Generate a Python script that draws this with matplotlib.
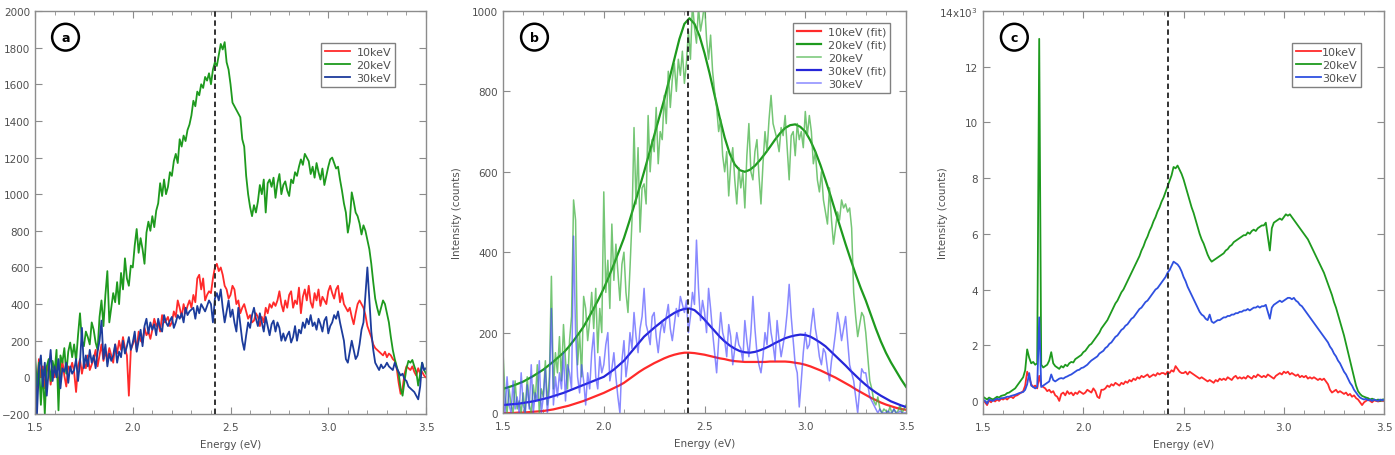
import numpy as np
import matplotlib
matplotlib.use('Agg')
import matplotlib.pyplot as plt
from matplotlib.ticker import MultipleLocator

# energy grids (eV)
energy = np.round(np.arange(1.50, 3.5001, 0.01), 2)      # measured spectra
energy_fit = np.round(np.arange(1.50, 3.5001, 0.025), 3)  # fitted curves

peak_line = 2.42

# ---- panel a (counts)
a_10keV = [50, -80, 100, 0, 60, -60, 30, 80, -40, 40,
           0, 70, -30, 20, 90, 10, -50, 60, 40, 80,
           30, -80, 60, 100, 20, 80, 50, 120, 40, 70,
           100, 150, 60, 120, 180, 90, 140, 100, 160, 120,
           80, 180, 130, 200, 150, 220, 160, 120, -100, 150,
           180, 220, 150, 250, 200, 190, 270, 230, 250, 210,
           260, 320, 280, 300, 250, 340, 300, 310, 330, 280,
           300, 360, 330, 420, 380, 330, 400, 350, 390, 420,
           380, 450, 410, 540, 560, 480, 540, 420, 450, 470,
           460, 540, 600, 620, 580, 600, 560, 500, 480, 430,
           450, 500, 480, 400, 420, 350, 380, 400, 360, 320,
           340, 300, 310, 350, 330, 280, 330, 300, 380, 350,
           400, 380, 410, 390, 420, 470, 400, 360, 420, 380,
           450, 470, 380, 420, 400, 490, 350, 440, 480, 420,
           500, 410, 380, 460, 420, 480, 390, 440, 420, 400,
           470, 500, 460, 430, 480, 500, 410, 460, 400, 380,
           360, 380, 330, 290, 350, 400, 420, 400, 380, 340,
           280, 250, 220, 180, 160, 150, 140, 130, 120, 140,
           110, 130, 120, 100, 90, 50, -30, -90, -60, 20,
           60, 50, 40, 60, 30, 10, 50, 20, 30, 10,
           0]
a_20keV = [120, -50, 80, -150, 40, -200, 60, 100, -20, 90,
           30, 150, -180, 120, 80, 160, 20, 140, 190, 110,
           180, 90, 230, 350, 200, 170, 250, 220, 180, 300,
           260, 190, 150, 330, 420, 280, 450, 580, 300, 380,
           460, 410, 520, 400, 570, 480, 650, 540, 500, 610,
           600, 720, 810, 680, 760, 700, 620, 790, 850, 800,
           880, 820, 910, 950, 1060, 990, 1080, 1000, 1040, 1120,
           1100, 1180, 1220, 1170, 1300, 1260, 1320, 1290, 1350, 1380,
           1430, 1510, 1480, 1560, 1540, 1600, 1580, 1640, 1620, 1660,
           1600, 1680, 1720, 1700, 1760, 1820, 1790, 1830, 1720, 1680,
           1600, 1500, 1480, 1460, 1440, 1420, 1300, 1260, 1100, 1000,
           930, 880, 940, 900, 960, 1050, 1000, 1080, 900, 1060,
           1080, 1040, 1090, 980, 1060, 1110, 1000, 1050, 1070, 1020,
           990, 1080, 1060, 1120, 1100, 1150, 1190, 1160, 1220, 1200,
           1180, 1110, 1150, 1090, 1170, 1120, 1080, 1140, 1050, 1100,
           1150, 1190, 1200, 1170, 1140, 1150, 1080, 1020, 950, 900,
           790, 850, 1010, 960, 900, 880, 840, 780, 830, 800,
           750, 700, 620, 520, 430, 380, 340, 380, 420, 400,
           350, 300, 220, 150, 100, 60, 20, -60, -100, -20,
           50, 90, 80, 95, 60, 30, -45, 20, 80, 40,
           20]
a_30keV = [100, -200, 50, 120, -50, 80, -100, 40, 150, -20,
           60, 0, 100, -60, 50, 30, 80, -30, 60, 20,
           40, 100, -20, 80, 270, 50, 120, 60, 150, 80,
           120, 50, 140, 200, 310, 100, 180, 60, 130, 90,
           120, 180, 80, 140, 110, 200, 130, 170, 220, 150,
           190, 250, 140, 200, 260, 170, 280, 320, 240, 300,
           260, 290, 230, 320, 270, 250, 340, 300, 280, 310,
           330, 270, 300, 340, 320, 350, 300, 380, 340, 360,
           370, 380, 320, 390, 350, 400, 380, 360, 390, 420,
           400, 300, 430, 460, 420, 480, 380, 300, 360, 420,
           330, 370, 300, 250, 380, 290, 200, 150, 230, 300,
           270, 340, 380, 320, 280, 350, 300, 250, 330, 280,
           230, 290, 310, 250, 300, 270, 200, 240, 200, 230,
           250, 190, 220, 280, 200, 260, 240, 300, 270, 320,
           290, 340, 280, 300, 260, 320, 290, 250, 310, 330,
           240, 280, 300, 340, 320, 360, 300, 250, 200, 100,
           80, 140, 200, 150, 100, 120, 180, 260, 300, 450,
           600, 420, 250, 150, 80, 60, 40, 70, 50, 60,
           80, 60, 50, 40, 80, 50, 30, 10, 20, -10,
           -20, -50, -60, -70, -80, -100, -120, -50, 80, 40,
           50]

# ---- panel b (counts)
b_20keV = [150, 40, 0, 60, 20, 0, 80, 10, 30, 0,
           50, 0, 90, 20, 0, 70, 30, 120, 0, 60,
           40, 130, 20, 90, 340, 60, 150, 100, 190, 80,
           220, 130, 60, 180, 240, 530, 480, 120, 200, 90,
           290, 260, 180, 230, 300, 210, 310, 150, 260, 200,
           550, 300, 380, 260, 470, 330, 420, 350, 280, 370,
           400, 300, 250, 360, 480, 710, 520, 660, 450, 560,
           570, 520, 740, 600, 680, 650, 760, 620, 700, 680,
           790, 720, 850, 760, 830, 870, 800, 880, 840, 900,
           820, 870, 950, 880, 1020, 960, 920, 1010, 950, 980,
           1020, 930, 880, 940, 850, 800, 760, 700, 730, 640,
           600, 650, 540, 620, 660, 580, 520, 610, 560, 600,
           510, 640, 720, 600, 580, 650, 680, 590, 520, 620,
           700, 650, 730, 790, 720, 700, 680, 650, 710, 690,
           740, 660, 580, 690, 700, 640, 720, 680, 700, 660,
           750, 690, 740, 700, 620, 650, 580, 550, 600, 530,
           500, 470, 560, 480, 420, 460, 500, 480, 530, 510,
           520, 500, 510, 460, 300, 240, 190, 220, 250, 240,
           200, 140, 80, 60, 30, 20, 40, 10, 0, 10,
           5, 0, 15, 0, 10, 0, 5, 20, 0, 10,
           20]
b_30keV = [60, 0, 90, 20, 0, 80, 10, 40, 0, 100,
           20, 0, 70, 10, 120, 0, 50, 30, 130, 0,
           40, 110, 0, 60, 260, 20, 90, 40, 100, 60,
           150, 30, 120, 100, 60, 440, 200, 90, 50, 120,
           80, 20, 100, 60, 150, 200, 90, 60, 140, 100,
           120, 170, 200, 80, 110, 150, 90, 40, 0, 130,
           180, 90, 130, 200, 160, 250, 190, 150, 210, 240,
           310, 220, 200, 170, 240, 250, 190, 150, 200, 230,
           200, 240, 270, 210, 180, 220, 260, 240, 290, 270,
           250, 280, 200, 240, 300, 270, 430, 310, 230, 280,
           250, 200, 310, 260, 200, 150, 100, 180, 250, 200,
           180, 140, 220, 190, 120, 160, 200, 170, 160, 130,
           230, 180, 140, 200, 290, 210, 150, 120, 100, 140,
           200, 170, 250, 200, 170, 130, 230, 180, 140, 170,
           200, 250, 320, 240, 180, 120, 100, 15, 80, 150,
           200, 160, 170, 220, 260, 210, 180, 140, 120, 160,
           150, 110, 80, 130, 160, 200, 250, 220, 180, 210,
           240, 180, 120, 100, 80, 40, 0, 60, 110, 100,
           100, 70, 40, 30, 20, 10, 0, 10, 0, 0,
           0, 5, 0, 0, 10, 0, 0, 5, 0, 0,
           0]
b_10keV_fit = [0, 0, 0, 1, 1, 2, 3, 4, 5, 7, 9, 12, 15, 18, 22, 26, 30, 35, 40, 45,
               50, 56, 62, 68, 75, 84, 93, 102, 110, 117, 124, 130, 136, 141, 145, 148,
               150, 150, 149, 147, 145, 142, 139, 136, 134, 131, 129, 128, 127, 127, 127,
               127, 127, 128, 128, 128, 128, 127, 125, 123, 120, 116, 111, 106, 100, 94,
               88, 81, 74, 67, 59, 52, 45, 38, 32, 26, 21, 17, 13, 10, 8]
b_20keV_fit = [60, 64, 68, 73, 78, 85, 92, 100, 108, 118, 128, 139, 150, 164, 180, 197,
               215, 237, 260, 284, 310, 339, 370, 402, 435, 474, 515, 557, 600, 645, 690,
               735, 780, 830, 880, 930, 968, 982, 968, 938, 895, 845, 790, 735, 685, 645,
               618, 604, 600, 605, 615, 629, 645, 662, 680, 696, 709, 716, 718, 712, 700,
               678, 650, 617, 580, 541, 500, 460, 420, 382, 345, 311, 280, 245, 210, 178,
               150, 126, 105, 84, 65]
b_30keV_fit = [20, 21, 22, 23, 25, 27, 29, 32, 35, 38, 42, 46, 50, 55, 60, 65, 70, 75, 80,
               85, 90, 99, 108, 119, 130, 145, 160, 175, 190, 201, 212, 222, 232, 241, 249,
               255, 259, 260, 256, 245, 232, 218, 204, 190, 178, 168, 160, 154, 151, 150,
               152, 156, 161, 167, 174, 180, 186, 190, 193, 195, 194, 190, 183, 175, 166,
               154, 142, 130, 118, 105, 93, 81, 70, 60, 51, 43, 36, 29, 24, 19, 15]

# ---- panel c (x10^3 counts)
c_10keV = [0.00, -0.05, -0.15, 0.02, -0.05, 0.05, -0.02, 0.05, 0.00, 0.08,
           0.05, 0.10, 0.05, 0.12, 0.15, 0.10, 0.18, 0.20, 0.25, 0.30,
           0.35, 0.55, 1.05, 0.85, 0.60, 0.50, 0.55, 0.45, 0.90, 0.55,
           0.50, 0.45, 0.35, 0.40, 0.30, 0.35, 0.20, 0.15, 0.00, 0.25,
           0.30, 0.20, 0.35, 0.25, 0.30, 0.20, 0.30, 0.25, 0.35, 0.30,
           0.25, 0.30, 0.40, 0.35, 0.30, 0.45, 0.35, 0.15, 0.10, 0.40,
           0.40, 0.45, 0.55, 0.50, 0.60, 0.55, 0.65, 0.60, 0.55, 0.65,
           0.60, 0.70, 0.65, 0.75, 0.70, 0.80, 0.75, 0.85, 0.80, 0.90,
           0.85, 0.90, 0.95, 0.85, 0.90, 0.95, 0.90, 1.00, 0.95, 1.00,
           1.00, 0.95, 1.05, 1.00, 1.10, 1.05, 1.25, 1.15, 1.05, 1.00,
           1.00, 1.05, 0.95, 1.05, 1.00, 0.95, 0.90, 0.85, 0.80, 0.85,
           0.80, 0.75, 0.70, 0.75, 0.70, 0.65, 0.75, 0.70, 0.80, 0.75,
           0.80, 0.75, 0.85, 0.80, 0.75, 0.85, 0.90, 0.80, 0.85, 0.80,
           0.85, 0.80, 0.90, 0.85, 0.80, 0.90, 0.85, 0.95, 0.90, 0.85,
           0.90, 0.85, 0.95, 0.90, 0.85, 0.80, 0.90, 0.95, 1.00, 0.95,
           1.05, 1.00, 1.05, 0.95, 1.00, 0.95, 0.90, 0.95, 0.85, 0.90,
           0.85, 0.90, 0.80, 0.85, 0.80, 0.85, 0.80, 0.75, 0.80, 0.75,
           0.80, 0.70, 0.60, 0.40, 0.30, 0.35, 0.40, 0.30, 0.35, 0.30,
           0.25, 0.30, 0.20, 0.25, 0.15, 0.20, 0.10, 0.05, -0.05, -0.15,
           -0.05, 0.00, 0.05, 0.00, -0.05, 0.02, 0.00, -0.02, 0.00, 0.02,
           0.00]
c_20keV = [0.15, 0.10, 0.05, 0.12, 0.08, 0.05, 0.10, 0.15, 0.12, 0.18,
           0.20, 0.22, 0.28, 0.30, 0.35, 0.40, 0.45, 0.55, 0.65, 0.75,
           0.85, 1.10, 1.85, 1.55, 1.35, 1.40, 1.30, 1.35, 13.0, 1.30,
           1.20, 1.25, 1.30, 1.45, 1.75, 1.35, 1.25, 1.20, 1.15, 1.25,
           1.20, 1.30, 1.25, 1.35, 1.40, 1.38, 1.50, 1.55, 1.60, 1.65,
           1.75, 1.80, 1.90, 2.00, 2.05, 2.15, 2.25, 2.35, 2.45, 2.60,
           2.70, 2.80, 2.90, 3.05, 3.20, 3.35, 3.50, 3.60, 3.75, 3.90,
           4.00, 4.15, 4.30, 4.45, 4.60, 4.75, 4.90, 5.05, 5.20, 5.40,
           5.55, 5.75, 5.90, 6.10, 6.25, 6.45, 6.60, 6.80, 6.95, 7.15,
           7.30, 7.50, 7.70, 7.90, 8.10, 8.40, 8.35, 8.45, 8.30, 8.15,
           7.95, 7.70, 7.45, 7.20, 6.95, 6.75, 6.50, 6.25, 6.00, 5.80,
           5.65, 5.45, 5.25, 5.10, 5.00, 5.05, 5.10, 5.15, 5.20, 5.25,
           5.30, 5.40, 5.45, 5.55, 5.60, 5.70, 5.75, 5.80, 5.85, 5.90,
           5.95, 5.95, 6.05, 6.00, 6.10, 6.15, 6.10, 6.20, 6.25, 6.30,
           6.30, 6.40, 5.90, 5.40, 6.20, 6.40, 6.45, 6.50, 6.55, 6.50,
           6.60, 6.70, 6.65, 6.70, 6.60, 6.50, 6.40, 6.30, 6.20, 6.10,
           6.00, 5.90, 5.80, 5.65, 5.50, 5.35, 5.20, 5.05, 4.90, 4.75,
           4.60, 4.40, 4.20, 4.00, 3.80, 3.55, 3.35, 3.10, 2.85, 2.60,
           2.35, 2.05, 1.75, 1.45, 1.15, 0.85, 0.55, 0.35, 0.25, 0.18,
           0.15, 0.12, 0.10, 0.05, 0.08, 0.05, 0.02, 0.05, 0.00, 0.05,
           0.05]
c_30keV = [0.05, 0.00, -0.10, 0.05, 0.02, 0.00, 0.05, 0.08, 0.05, 0.10,
           0.10, 0.12, 0.15, 0.15, 0.18, 0.20, 0.22, 0.25, 0.28, 0.30,
           0.32, 0.40, 0.60, 1.00, 0.55, 0.50, 0.45, 0.50, 3.00, 0.50,
           0.55, 0.60, 0.65, 0.70, 0.95, 0.75, 0.70, 0.75, 0.80, 0.82,
           0.80, 0.85, 0.88, 0.92, 0.95, 1.00, 1.05, 1.10, 1.12, 1.18,
           1.20, 1.25, 1.30, 1.38, 1.45, 1.50, 1.55, 1.60, 1.70, 1.75,
           1.80, 1.90, 1.95, 2.05, 2.10, 2.20, 2.30, 2.35, 2.45, 2.55,
           2.60, 2.70, 2.75, 2.85, 2.95, 3.00, 3.10, 3.20, 3.30, 3.35,
           3.45, 3.55, 3.60, 3.70, 3.80, 3.90, 4.00, 4.05, 4.15, 4.25,
           4.35, 4.45, 4.60, 4.70, 4.85, 5.00, 4.95, 4.90, 4.80, 4.65,
           4.45, 4.30, 4.10, 3.95, 3.80, 3.65, 3.50, 3.35, 3.20, 3.10,
           3.05, 2.95, 2.90, 3.10, 2.85, 2.80, 2.85, 2.90, 2.90, 2.95,
           3.00, 3.00, 3.05, 3.05, 3.10, 3.10, 3.15, 3.15, 3.20, 3.20,
           3.25, 3.25, 3.30, 3.25, 3.30, 3.35, 3.35, 3.40, 3.35, 3.40,
           3.40, 3.45, 3.20, 2.95, 3.35, 3.45, 3.50, 3.55, 3.60, 3.55,
           3.60, 3.65, 3.70, 3.70, 3.65, 3.70, 3.60, 3.55, 3.45, 3.40,
           3.30, 3.20, 3.10, 3.00, 2.90, 2.80, 2.70, 2.60, 2.50, 2.40,
           2.30, 2.20, 2.10, 1.95, 1.85, 1.70, 1.60, 1.45, 1.35, 1.20,
           1.05, 0.95, 0.80, 0.65, 0.55, 0.40, 0.30, 0.20, 0.12, 0.08,
           0.05, 0.08, 0.02, 0.05, 0.00, 0.05, 0.02, 0.00, 0.05, 0.02,
           0.05]

RED = '#ff2a2a'
GREEN = '#1e9a1e'
BLUE_DARK = '#1c3c9c'
BLUE = '#2a3cf0'
FRAME = '#8c8c8c'
TXT = '#505050'

plt.rcParams['font.family'] = 'DejaVu Sans'
plt.rcParams['font.size'] = 7.5

fig = plt.figure(figsize=(13.95, 4.56), dpi=100)
ax_a = fig.add_axes([0.0251, 0.0899, 0.2803, 0.8838])
ax_b = fig.add_axes([0.3606, 0.0921, 0.2889, 0.8816])
ax_c = fig.add_axes([0.7047, 0.0899, 0.2875, 0.8838])


def style_axes(ax, ymajor):
    ax.set_xlim(1.5, 3.5)
    ax.xaxis.set_major_locator(MultipleLocator(0.5))
    ax.xaxis.set_minor_locator(MultipleLocator(0.1))
    ax.yaxis.set_major_locator(MultipleLocator(ymajor))
    ax.tick_params(which='both', direction='in', top=True, right=True,
                   colors=FRAME, labelcolor=TXT, labelsize=7.5)
    ax.tick_params(which='major', length=5, width=0.8)
    ax.tick_params(which='minor', length=3, width=0.6)
    ax.tick_params(axis='x', pad=6)
    for s in ax.spines.values():
        s.set_color(FRAME)
        s.set_linewidth(1.0)
    ax.set_xlabel('Energy (eV)', color=TXT, fontsize=7.5, labelpad=5)
    ax.axvline(peak_line, color='#222222', ls=(0, (3, 2)), lw=1.3, zorder=5)
    ax.xaxis.set_major_formatter(plt.FuncFormatter(lambda v, p: '%.1f' % v))


def circle_label(ax, letter):
    ax.annotate(letter, xy=(0.078, 0.935), xycoords='axes fraction',
                ha='center', va='center', fontsize=9, fontweight='bold',
                bbox=dict(boxstyle='circle,pad=0.55', fc='white', ec='black', lw=1.8),
                zorder=10)


def legend_box(ax, anchor, textpad):
    leg = ax.legend(loc='upper right', bbox_to_anchor=anchor, fontsize=8,
                    fancybox=False, edgecolor='#606060', handlelength=2.2,
                    borderpad=0.35, labelspacing=0.28, handletextpad=textpad)
    leg.get_frame().set_linewidth(1.0)
    for t in leg.get_texts():
        t.set_color(TXT)


# panel a
ax_a.plot(energy, a_10keV, color=RED, lw=1.3, label='10keV')
ax_a.plot(energy, a_20keV, color=GREEN, lw=1.3, label='20keV')
ax_a.plot(energy, a_30keV, color=BLUE_DARK, lw=1.3, label='30keV')
ax_a.set_ylim(-200, 2000)
style_axes(ax_a, 200)
circle_label(ax_a, 'a')
legend_box(ax_a, (0.935, 0.935), 0.6)

# panel b
ax_b.plot(energy_fit, b_10keV_fit, color=RED, lw=1.6, label='10keV (fit)')
ax_b.plot(energy_fit, b_20keV_fit, color=GREEN, lw=1.6, label='20keV (fit)')
ax_b.plot(energy, b_20keV, color='#3aae3a', lw=1.1, alpha=0.7, label='20keV')
ax_b.plot(energy_fit, b_30keV_fit, color='#2626d8', lw=1.6, label='30keV (fit)')
ax_b.plot(energy, b_30keV, color='#3b3bff', lw=1.1, alpha=0.6, label='30keV')
ax_b.set_ylim(0, 1000)
style_axes(ax_b, 200)
ax_b.set_ylabel('Intensity (counts)', color=TXT, fontsize=7.5)
ax_b.yaxis.set_label_coords(-0.102, 0.5)
circle_label(ax_b, 'b')
legend_box(ax_b, (0.975, 0.985), 0.6)

# panel c
ax_c.plot(energy, c_10keV, color=RED, lw=1.3, label='10keV')
ax_c.plot(energy, c_20keV, color=GREEN, lw=1.3, label='20keV')
ax_c.plot(energy, c_30keV, color='#2f50e0', lw=1.3, label='30keV')
ax_c.set_ylim(-0.47, 14)
style_axes(ax_c, 2)
ax_c.set_yticks([0, 2, 4, 6, 8, 10, 12, 14])
ax_c.set_yticklabels(['0', '2', '4', '6', '8', '10', '12', '14x10$^3$'])
ax_c.set_ylabel('Intensity (counts)', color=TXT, fontsize=7.5)
ax_c.yaxis.set_label_coords(-0.087, 0.5)
circle_label(ax_c, 'c')
legend_box(ax_c, (0.955, 0.935), 0.1)

fig.savefig('out.png', dpi=100)
